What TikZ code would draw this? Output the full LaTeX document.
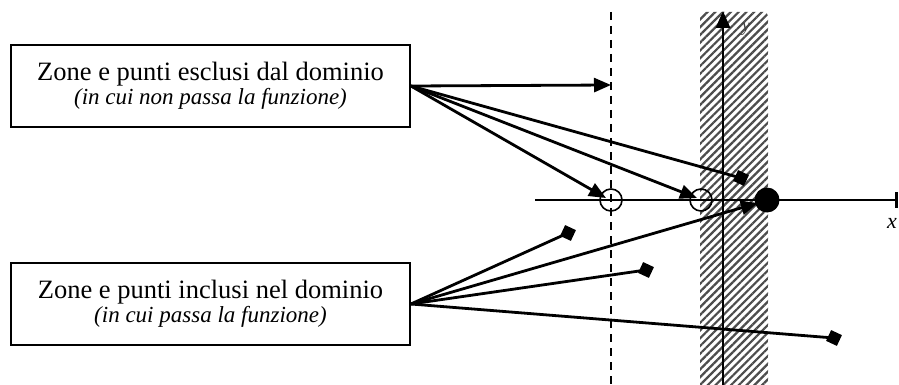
\documentclass[tikz,border=0pt]{standalone}
\usepackage{fontspec}
\setmainfont{Liberation Serif}
\usetikzlibrary{arrows.meta,patterns.meta,shapes.geometric}
\begin{document}
\begin{tikzpicture}[x=1pt,y=-1pt,
  labelbox/.style={draw,line width=1.8pt,minimum width=399pt,minimum height=82pt,align=center,inner sep=0pt,
    font=\fontsize{26.5}{30}\selectfont},
  conn/.style={line width=2.8pt},
  arr/.style={conn,-{Triangle[length=17pt,width=14pt]}},
  dmd/.style={diamond,fill=black,minimum size=17pt,inner sep=0pt,rotate=20},
  hole/.style={circle,draw,line width=1.6pt,minimum size=22pt,inner sep=0pt},
  dot/.style={circle,fill=black,minimum size=25pt,inner sep=0pt}]
\useasboundingbox (0,0) rectangle (899,385);
% hatched band
\path[pattern={Lines[angle=45,distance=5.5pt,line width=2.2pt]},pattern color=black!70,rounded corners=4pt]
  (700,12) rectangle (768,395);
% dashed asymptote
\draw[line width=2pt,dash pattern=on 8pt off 6pt] (611,12) -- (611,385);
% axes
\coordinate (xs) at (535,200);
\coordinate (xe) at (898,200);
\coordinate (ys) at (723,390);
\coordinate (ye) at (723,11);
\draw[line width=2.8pt,-{Bar[width=16pt]}] (xs) -- (xe);
\draw[line width=2.8pt,-{Triangle[length=17pt,width=14pt]}] (ys) -- (ye);
\node[font=\itshape\fontsize{22}{22}\selectfont] (xl) at (892,223) {x};
\node[font=\itshape\fontsize{18}{18}\selectfont,text=black!75] (yl) at (746,29) {y};
% points
\node[hole] (h1) at (611,200) {};
\node[hole] (h2) at (701,200) {};
\node[dot] (d0) at (767,200) {};
\node[dmd] (m1) at (741,178) {};
\node[dmd] (m2) at (568,233) {};
\node[dmd] (m3) at (646,270) {};
\node[dmd] (m4) at (834,338) {};
% boxes
\node[labelbox] (top) at (210.5,86) {Zone e punti esclusi dal dominio\\[-6pt]
  {\itshape\fontsize{23}{25}\selectfont (in cui non passa la funzione)}};
\node[labelbox] (bot) at (210.5,304) {Zone e punti inclusi nel dominio\\[-6pt]
  {\itshape\fontsize{23}{25}\selectfont (in cui passa la funzione)}};
\coordinate (t0) at (top.east);
\coordinate (b0) at (bot.east);
\coordinate (a1) at (611,85);
\coordinate (a2) at (606,198);
\coordinate (a3) at (697,198);
\coordinate (a4) at (758,203);
% connectors top
\draw[arr] (t0) -- (a1);
\draw[arr] (t0) -- (a2);
\draw[arr] (t0) -- (a3);
\draw[conn] (t0) -- (m1.center);
% connectors bottom
\draw[conn] (b0) -- (m2.center);
\draw[arr] (b0) -- (a4);
\draw[conn] (b0) -- (m3.center);
\draw[conn] (b0) -- (m4.center);
\end{tikzpicture}
\end{document}
